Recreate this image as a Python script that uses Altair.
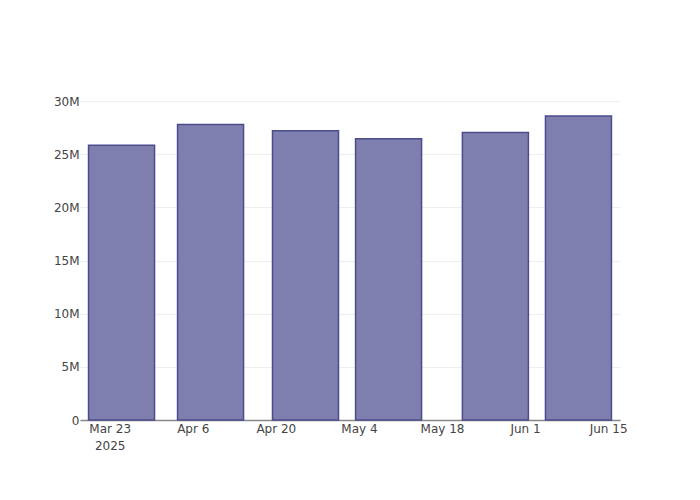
import altair as alt
import pandas as pd

dates = ["2025-03-25", "2025-04-09", "2025-04-25", "2025-05-09", "2025-05-27", "2025-06-10"]
values = [25.85e6, 27.8e6, 27.2e6, 26.45e6, 27.05e6, 28.6e6]
tick_dates = ["2025-03-23", "2025-04-06", "2025-04-20", "2025-05-04", "2025-05-18", "2025-06-01", "2025-06-15"]

df = pd.DataFrame({"date": pd.to_datetime(dates), "value": values})

tick_vals = [alt.DateTime(year=int(d[:4]), month=int(d[5:7]), date=int(d[8:10])) for d in tick_dates]

chart = alt.Chart(df).mark_bar(
    size=66, color="#7f7faf", stroke="#4c4c8c", strokeWidth=1.5
).encode(
    x=alt.X("date:T",
            scale=alt.Scale(domain=[alt.DateTime(year=2025, month=3, date=18),
                                    alt.DateTime(year=2025, month=6, date=17)],
                            padding=0),
            axis=alt.Axis(values=tick_vals, title=None, grid=False, ticks=False,
                          domainColor="#888", domainWidth=1.5,
                          labelExpr="month(datum.value)==2 && date(datum.value)==23 ? [timeFormat(datum.value, '%b %d'), '2025'] : timeFormat(datum.value, '%b %-d')",
                          labelPadding=3, labelFlush=False, labelLineHeight=17)),
    y=alt.Y("value:Q",
            scale=alt.Scale(domain=[0, 30.1e6], nice=False),
            axis=alt.Axis(values=[0, 5e6, 10e6, 15e6, 20e6, 25e6, 30e6], title=None,
                          domain=False, ticks=False, gridColor="#eeeeee",
                          labelExpr="datum.value == 0 ? '0' : (datum.value/1e6) + 'M'",
                          labelPadding=1)),
).properties(
    width=540, height=320,
    autosize=alt.AutoSizeParams(type="none"),
    padding={"left": 72, "top": 92, "right": 72, "bottom": 72},
).configure_axis(
    labelFont="DejaVu Sans", labelFontSize=12, labelColor="#444"
).configure_view(stroke=None)

chart.save("out.html", embed_options={"renderer": "svg", "actions": False})
